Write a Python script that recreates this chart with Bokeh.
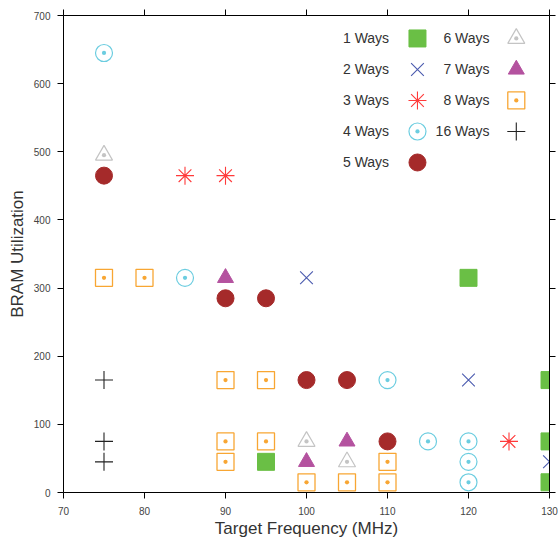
from bokeh.plotting import figure
from bokeh.models import Range1d, LinearAxis, FixedTicker, Label
from bokeh.embed import file_html
from bokeh.resources import INLINE

# ---- data ----
x_ticks = [70, 80, 90, 100, 110, 120, 130]
y_ticks = [0, 100, 200, 300, 400, 500, 600, 700]

w1_x = [120, 130, 95, 130, 130]
w1_y = [315, 165, 45, 75, 15]
w2_x = [100, 120, 130]
w2_y = [315, 165, 45]
w3_x = [85, 90, 125]
w3_y = [465, 465, 75]
w4_x = [75, 85, 110, 115, 120, 120, 120]
w4_y = [645, 315, 165, 75, 75, 45, 15]
w5_x = [75, 90, 95, 100, 105, 110]
w5_y = [465, 285, 285, 165, 165, 75]
w6_x = [75, 100, 105]
w6_y = [495, 75, 45]
w7_x = [90, 105, 100]
w7_y = [315, 75, 45]
w8_x = [75, 80, 90, 95, 90, 95, 90, 110, 100, 105, 110]
w8_y = [315, 315, 165, 165, 75, 75, 45, 45, 15, 15, 15]
w16_x = [75, 75, 75]
w16_y = [165, 75, 45]

labels = ["1 Ways", "2 Ways", "3 Ways", "4 Ways", "5 Ways",
          "6 Ways", "7 Ways", "8 Ways", "16 Ways"]

FONT = "Liberation Sans"

p = figure(width=558, height=540, output_backend="svg", toolbar_location=None,
           x_range=Range1d(70, 130), y_range=Range1d(0, 700),
           min_border_left=63, min_border_right=9, min_border_top=15,
           min_border_bottom=48)
p.grid.visible = False
p.outline_line_color = None
p.background_fill_color = "white"
p.border_fill_color = "white"

for ax in (p.xaxis[0], p.yaxis[0]):
    ax.axis_line_color = "black"
    ax.major_tick_line_color = "black"
    ax.major_tick_out = 6
    ax.major_tick_in = 0
    ax.minor_tick_line_color = None
    ax.major_label_text_font = FONT
    ax.major_label_text_font_size = "10px"
    ax.major_label_text_color = "#444444"
    ax.axis_label_text_font = FONT
    ax.axis_label_text_font_size = "17px"
    ax.axis_label_text_font_style = "normal"
    ax.axis_label_text_color = "#333333"

p.xaxis[0].ticker = FixedTicker(ticks=x_ticks)
p.yaxis[0].ticker = FixedTicker(ticks=y_ticks)
p.xaxis[0].axis_label = "Target Frequency (MHz)"
p.yaxis[0].axis_label = "BRAM Utilization"
p.xaxis[0].major_label_standoff = 8
p.xaxis[0].axis_label_standoff = 1
p.yaxis[0].major_label_standoff = 7
p.yaxis[0].axis_label_standoff = 4

top = LinearAxis(ticker=FixedTicker(ticks=x_ticks),
                 major_label_overrides={t: "" for t in x_ticks})
right = LinearAxis(ticker=FixedTicker(ticks=y_ticks),
                   major_label_overrides={t: "" for t in y_ticks})
for ax in (top, right):
    ax.axis_line_color = "black"
    ax.major_tick_line_color = "black"
    ax.major_tick_out = 6
    ax.major_tick_in = 0
    ax.minor_tick_line_color = None
    ax.major_label_standoff = 0
p.add_layout(top, "above")
p.add_layout(right, "right")

styles = [
    dict(marker="square", fill_color="#6abf45", line_color="#6abf45", size=17),
    dict(marker="x", fill_color=None, line_color="#4a5aae", size=18, line_width=1.1),
    dict(marker="asterisk", fill_color=None, line_color="#ff3a3a", size=18, line_width=1.1),
    dict(marker="circle_dot", fill_color=None, line_color="#6ccde0", size=17, line_width=1.2),
    dict(marker="circle", fill_color="#a52a2a", line_color="#a52a2a", size=17),
    dict(marker="triangle_dot", fill_color=None, line_color="#c4c4c4", size=17, line_width=1.2),
    dict(marker="triangle", fill_color="#b4529f", line_color="#b4529f", size=16),
    dict(marker="square_dot", fill_color=None, line_color="#f8a633", size=17, line_width=1.3),
    dict(marker="cross", fill_color=None, line_color="#222222", size=18, line_width=1.1),
]

series = [(w1_x, w1_y), (w2_x, w2_y), (w3_x, w3_y), (w4_x, w4_y), (w5_x, w5_y),
          (w6_x, w6_y), (w7_x, w7_y), (w8_x, w8_y), (w16_x, w16_y)]

for (xs, ys), st in zip(series, styles):
    p.scatter(xs, ys, **st)

# ---- manual legend (label left of marker, two columns) ----
col_marker_x = [113.7, 125.9]
col_text_x = [110.2, 122.6]
row_y = [666.3, 620.8, 575.3, 529.8, 484.3]
for i, (lab, st) in enumerate(zip(labels, styles)):
    col = 0 if i < 5 else 1
    row = i if i < 5 else i - 5
    p.scatter([col_marker_x[col]], [row_y[row]], **st)
    p.add_layout(Label(x=col_text_x[col], y=row_y[row], text=lab,
                       text_font=FONT, text_font_size="14px",
                       text_color="#333333", text_align="right",
                       text_baseline="middle"))

open("out.html", "w").write(file_html(p, INLINE))
